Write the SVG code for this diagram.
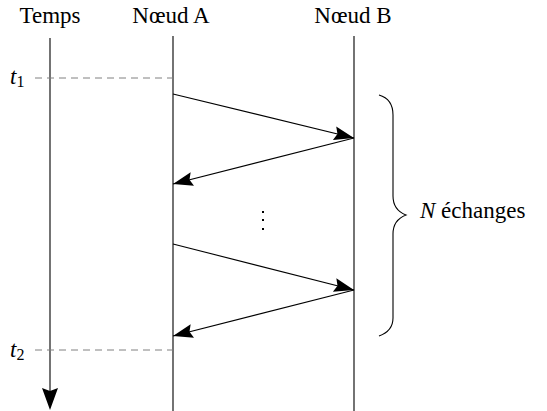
<svg xmlns="http://www.w3.org/2000/svg" width="547" height="411" viewBox="0 0 547 411">
<style>
text{font-family:"Liberation Serif","DejaVu Serif",serif;font-size:23px;fill:#000}
.it{font-style:italic}
.ln{stroke:#000;stroke-width:1.1;fill:none}
.dash{stroke:#808080;stroke-width:1;stroke-dasharray:7 5;fill:none}
.msg{stroke:#000;stroke-width:1.1;fill:none;marker-end:url(#ah)}
</style>
<defs>
<marker id="ah" markerUnits="userSpaceOnUse" markerWidth="24" markerHeight="18" refX="20" refY="8" orient="auto">
<path d="M0,1 L20,8 L0,15 L3,8 z" fill="#000"/>
</marker>
</defs>
<g id="temps">
<text x="50" y="23" text-anchor="middle">Temps</text>
<line class="ln" x1="50" y1="38" x2="50" y2="395"/>
<path d="M42,388 L50,410 L58,388 L50,391 z" fill="#000"/>
</g>
<g id="noeudA">
<text x="171" y="23" text-anchor="middle">Nœud A</text>
<line class="ln" x1="173" y1="36" x2="173" y2="411"/>
</g>
<g id="noeudB">
<text x="353" y="23" text-anchor="middle">Nœud B</text>
<line class="ln" x1="354" y1="36" x2="354" y2="411"/>
</g>
<g id="t1">
<text x="10" y="84" class="it">t<tspan font-style="normal" font-size="16" dy="3">1</tspan></text>
<line class="dash" x1="35" y1="78" x2="173" y2="78"/>
</g>
<g id="t2">
<text x="10" y="357" class="it">t<tspan font-style="normal" font-size="16" dy="3">2</tspan></text>
<line class="dash" x1="35" y1="350" x2="173" y2="350"/>
</g>
<g id="connectors">
<line class="msg" x1="173" y1="94" x2="354" y2="138"/>
<line class="msg" x1="354" y1="138" x2="173" y2="184"/>
<line class="msg" x1="173" y1="244" x2="354" y2="290"/>
<line class="msg" x1="354" y1="290" x2="173" y2="336"/>
</g>
<g id="dots" fill="#000">
<rect x="262" y="211" width="2" height="2"/>
<rect x="262" y="219" width="2" height="2"/>
<rect x="262" y="228" width="2" height="2"/>
</g>
<g id="brace">
<path class="ln" d="M379,95 Q393,99 393,115 L393,196 Q393,210 406,215 Q393,220 393,234 L393,318 Q393,331 379,336"/>
<text x="420" y="218"><tspan class="it">N</tspan> échanges</text>
</g>
</svg>
